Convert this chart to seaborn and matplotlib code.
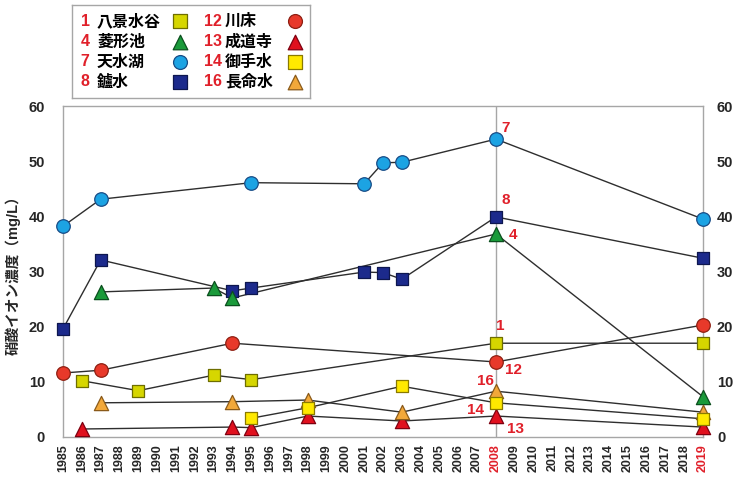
import matplotlib
matplotlib.use("Agg")
import matplotlib.pyplot as plt
import seaborn as sns
import pandas as pd

# ---------------- data ----------------
ids = ["1", "4", "7", "8", "12", "13", "14", "16"]
names = ["八景水谷", "菱形池", "天水湖", "鑪水", "川床", "成道寺", "御手水", "長命水"]

years_1 = [1986, 1989, 1993, 1995, 2008, 2019]
vals_1 = [10.2, 8.4, 11.2, 10.4, 17.0, 17.0]

years_4 = [1987, 1993, 1994, 2008, 2019]
vals_4 = [26.3, 27.0, 25.2, 36.8, 7.3]

years_7 = [1985, 1987, 1995, 2001, 2002, 2003, 2008, 2019]
vals_7 = [38.2, 43.1, 46.1, 45.9, 49.7, 49.8, 54.0, 39.5]

years_8 = [1985, 1987, 1994, 1995, 2001, 2002, 2003, 2008, 2019]
vals_8 = [19.6, 32.1, 26.5, 27.0, 29.9, 29.8, 28.6, 39.9, 32.4]

years_12 = [1985, 1987, 1994, 2008, 2019]
vals_12 = [11.6, 12.1, 17.0, 13.6, 20.3]

years_13 = [1986, 1994, 1995, 1998, 2003, 2008, 2019]
vals_13 = [1.45, 1.8, 1.7, 3.8, 2.9, 3.8, 1.8]

years_14 = [1995, 1998, 2003, 2008, 2019]
vals_14 = [3.4, 5.3, 9.2, 6.2, 3.3]

years_16 = [1987, 1994, 1998, 2003, 2008, 2019]
vals_16 = [6.2, 6.4, 6.7, 4.5, 8.3, 4.5]

year_ticks = list(range(1985, 2020))
year_labels = [str(y) for y in year_ticks]
y_ticks = [0, 10, 20, 30, 40, 50, 60]
ylabel = "硝酸イオン濃度（mg/L）"

# ---------------- styling ----------------
styles = {
    "1":  dict(marker="s", face="#D6D600", edge="#6E6E00", s=85),
    "4":  dict(marker="^", face="#1A9A3A", edge="#0B4F1E", s=105),
    "7":  dict(marker="o", face="#1CA3E3", edge="#184C86", s=95),
    "8":  dict(marker="s", face="#1C2A8C", edge="#0E174F", s=85),
    "12": dict(marker="o", face="#E8392A", edge="#8E1F12", s=95),
    "13": dict(marker="^", face="#E0101E", edge="#7E0010", s=105),
    "14": dict(marker="s", face="#FFE900", edge="#8A7A00", s=85),
    "16": dict(marker="^", face="#F2A83A", edge="#8A5A1A", s=105),
}
# offsets (pixels) of the red series number at the 2008 point
label_offsets = {"7": (10, 11), "8": (10, 17), "4": (17, -1), "1": (4, 17),
                 "12": (18, -8), "16": (-11, 10), "14": (-20, -7), "13": (20, -13)}

series = {
    "1": (years_1, vals_1), "4": (years_4, vals_4), "7": (years_7, vals_7),
    "8": (years_8, vals_8), "12": (years_12, vals_12), "13": (years_13, vals_13),
    "14": (years_14, vals_14), "16": (years_16, vals_16),
}

rows = []
for sid in ids:
    ys, vs = series[sid]
    for y, v in zip(ys, vs):
        rows.append({"id": sid, "year": y, "value": v})
df = pd.DataFrame(rows)

sns.set_style("white")
fam = ["Liberation Sans", "Noto Sans CJK JP", "DejaVu Sans"]
plt.rcParams["font.family"] = fam

RED = "#E0202A"
GRID = "#A6A6A6"

fig = plt.figure(figsize=(7.34, 4.78), dpi=100)
ax = fig.add_axes([63 / 734, 41 / 478, 640 / 734, 331 / 478])

ax.axvline(2008, color=GRID, lw=1.0, zorder=1)

# lines
for sid in ids:
    d = df[df["id"] == sid]
    sns.lineplot(data=d, x="year", y="value", ax=ax, color="#2E2E2E", lw=1.0,
                 estimator=None, sort=False, zorder=2, legend=False)

# markers (drawing order chosen to match overlaps)
draw_order = ["7", "8", "4", "12", "1", "13", "16", "14"]
for i, sid in enumerate(draw_order):
    d = df[df["id"] == sid]
    st = styles[sid]
    sns.scatterplot(data=d, x="year", y="value", ax=ax, marker=st["marker"],
                    s=st["s"], color=st["face"], edgecolor=st["edge"],
                    linewidth=0.9, zorder=3 + i * 0.01, legend=False,
                    clip_on=False)

# red series numbers at 2008
for sid in ids:
    ys, vs = series[sid]
    if 2008 in ys:
        v = vs[ys.index(2008)]
        ax.annotate(sid, xy=(2008, v), xytext=label_offsets[sid],
                    textcoords="offset pixels", ha="center", va="center",
                    color=RED, fontsize=11, fontweight="bold", zorder=5)

ax.set_xlim(1985, 2019)
ax.set_ylim(0, 60)
ax.set_xticks(year_ticks)
ax.set_xticklabels(year_labels, rotation=90, fontsize=9, fontweight="bold")
for lab in ax.get_xticklabels():
    if lab.get_text() in ("2008", "2019"):
        lab.set_color(RED)
ax.set_yticks(y_ticks)
ax.set_yticklabels([str(t) for t in y_ticks], fontsize=10.5, fontweight="bold")
ax.tick_params(axis="both", length=0)
ax.tick_params(axis="x", pad=5)
ax.tick_params(axis="y", pad=13)
ax.set_xlabel("")
ax.set_ylabel(ylabel, fontsize=10.5, fontweight="bold", family=fam)
ax.yaxis.set_label_coords(-0.066, 0.5)
for sp in ax.spines.values():
    sp.set_color(GRID)
    sp.set_linewidth(1.0)

ax2 = ax.twinx()
ax2.set_ylim(0, 60)
ax2.set_yticks(y_ticks)
ax2.set_yticklabels([str(t) for t in y_ticks], fontsize=10.5, fontweight="bold")
ax2.tick_params(axis="y", length=0, pad=10)
for sp in ax2.spines.values():
    sp.set_visible(False)
ax.set_zorder(ax2.get_zorder() + 1)
ax.patch.set_visible(False)

# ---------------- legend box ----------------
lg = fig.add_axes([72 / 734, (478 - 98) / 478, 238 / 734, 93 / 478])
lg.set_xlim(0, 238)
lg.set_ylim(93, 0)
lg.set_xticks([])
lg.set_yticks([])
for sp in lg.spines.values():
    sp.set_color(GRID)
    sp.set_linewidth(1.0)
row_y = [16, 37, 57, 77]
cols = [dict(num=13, name=25, mk=108), dict(num=141, name=153, mk=223)]
for k, sid in enumerate(ids):
    c = cols[k // 4]
    yy = row_y[k % 4]
    st = styles[sid]
    lg.text(c["num"], yy, sid, ha="center", va="center", color=RED,
            fontsize=11.5, fontweight="bold")
    lg.text(c["name"], yy, names[k], ha="left", va="center", color="black",
            fontsize=11.5, fontweight="bold", family=fam)
    lg.scatter([c["mk"]], [yy], marker=st["marker"], s=st["s"] * 1.05,
               color=st["face"], edgecolor=st["edge"], linewidth=0.9)

fig.savefig("out.png", dpi=100)
